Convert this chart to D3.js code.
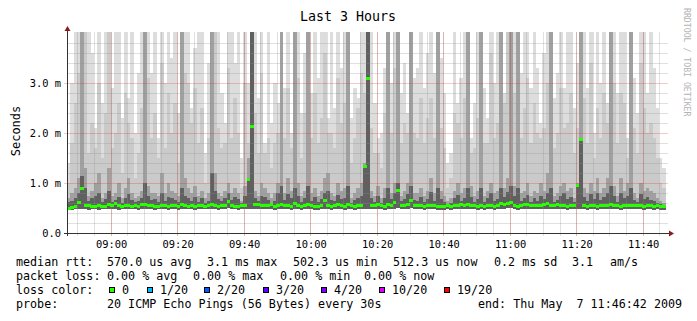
<!DOCTYPE html>
<html>
<head>
<meta charset="utf-8">
<script src="https://cdnjs.cloudflare.com/ajax/libs/d3/7.8.5/d3.min.js"></script>
<style>
  body { margin: 0; background: #fff; }
  svg text { font-family: "DejaVu Sans Mono", monospace; fill: #000; white-space: pre; }
</style>
</head>
<body>
<script>
// smokeping 3 hour view, one column per minute, values in ms
var startTime = new Date(2009, 4, 7, 8, 46, 42);
var endTime = new Date(2009, 4, 7, 11, 46, 42);

var minPing = [
  0.46,0.47,0.48,0.48,0.49,0.48,0.47,0.48,0.48,0.47,0.48,0.48,0.49,0.48,0.48,0.47,0.48,0.48,0.49,0.48,
  0.48,0.47,0.49,0.49,0.48,0.48,0.47,0.48,0.49,0.48,0.47,0.48,0.48,0.47,0.49,0.48,0.48,0.48,0.47,0.48,
  0.48,0.48,0.49,0.49,0.48,0.47,0.48,0.48,0.5,0.48,0.48,0.47,0.48,0.48,0.49,0.49,0.48,0.49,0.48,0.48,
  0.48,0.49,0.47,0.48,0.49,0.48,0.48,0.47,0.49,0.48,0.47,0.48,0.48,0.48,0.47,0.47,0.48,0.49,0.48,0.47,
  0.48,0.49,0.48,0.47,0.48,0.48,0.47,0.48,0.48,0.49,0.49,0.48,0.48,0.49,0.48,0.47,0.49,0.48,0.49,0.5,
  0.48,0.48,0.49,0.5,0.48,0.48,0.48,0.47,0.48,0.48,0.48,0.47,0.47,0.47,0.48,0.47,0.48,0.48,0.49,0.48,
  0.49,0.48,0.48,0.47,0.48,0.47,0.48,0.48,0.47,0.48,0.49,0.49,0.5,0.5,0.48,0.47,0.48,0.49,0.49,0.48,
  0.48,0.48,0.48,0.49,0.49,0.48,0.48,0.49,0.48,0.48,0.47,0.48,0.48,0.49,0.49,0.48,0.47,0.48,0.48,0.47,
  0.48,0.48,0.48,0.49,0.48,0.48,0.47,0.48,0.48,0.48,0.48,0.48,0.48,0.47,0.48,0.48,0.47,0.48,0.47,0.47
];

var medianRtt = [
  0.5,0.52,0.54,0.62,0.9,0.56,0.55,0.53,0.54,0.56,0.54,0.53,0.57,0.55,0.6,0.56,0.54,0.55,0.56,0.54,
  0.55,0.54,0.57,0.58,0.56,0.55,0.53,0.54,0.56,0.55,0.54,0.56,0.55,0.53,0.58,0.56,0.54,0.55,0.53,0.56,
  0.55,0.54,0.56,0.57,0.55,0.54,0.55,0.56,0.63,0.55,0.54,0.53,0.55,0.56,1.07,2.13,0.57,0.58,0.55,0.56,
  0.55,0.57,0.54,0.55,0.58,0.56,0.55,0.54,0.59,0.56,0.54,0.55,0.57,0.55,0.53,0.54,0.56,0.65,0.55,0.54,
  0.56,0.58,0.55,0.54,0.57,0.55,0.54,0.56,0.55,1.34,3.1,0.56,0.55,0.57,0.55,0.54,0.58,0.56,0.62,0.85,
  0.56,0.55,0.57,0.66,0.55,0.56,0.55,0.54,0.55,0.56,0.55,0.54,0.53,0.54,0.55,0.54,0.56,0.55,0.57,0.56,
  0.58,0.56,0.55,0.54,0.55,0.53,0.56,0.55,0.54,0.56,0.59,0.57,0.6,0.62,0.55,0.54,0.55,0.57,0.58,0.56,
  0.55,0.56,0.55,0.57,0.59,0.56,0.55,0.57,0.56,0.55,0.54,0.55,0.56,0.96,1.87,0.55,0.54,0.56,0.55,0.54,
  0.55,0.56,0.55,0.57,0.56,0.55,0.54,0.56,0.55,0.56,0.55,0.56,0.55,0.54,0.55,0.55,0.54,0.55,0.54,0.54
];

var ping12 = [
  0.62,0.65,0.7,0.8,1.15,0.9,0.65,0.7,0.75,0.8,0.62,0.68,0.85,0.63,0.66,0.72,0.6,0.7,0.78,0.66,
  0.62,0.64,0.7,1.0,0.74,0.66,0.68,0.63,0.8,0.64,0.72,0.7,0.66,0.62,0.9,0.75,0.7,0.65,0.72,0.63,
  0.7,0.6,0.64,1.2,0.85,0.68,0.64,0.7,0.8,0.66,0.72,0.68,0.6,0.74,1.1,4.1,0.7,0.64,0.75,0.72,
  0.66,0.6,0.65,0.8,0.95,0.66,0.78,0.7,0.9,0.74,0.62,0.7,0.95,0.65,0.72,0.63,0.68,0.8,0.85,0.66,
  0.64,0.76,0.68,0.7,0.95,0.6,0.66,0.7,0.74,1.35,4.1,0.7,0.62,0.74,0.6,0.7,0.9,0.68,0.8,1.0,
  0.64,0.68,0.78,0.95,0.66,0.65,0.72,0.63,0.68,0.82,0.64,0.9,0.68,0.62,0.58,0.6,0.7,0.76,0.64,0.7,
  0.9,0.72,0.62,0.68,0.9,0.63,0.7,0.8,0.64,0.68,0.9,0.72,0.82,0.95,0.74,0.9,0.65,0.7,0.76,0.63,
  0.7,0.65,0.75,0.68,0.8,0.9,0.62,0.66,0.74,0.8,0.68,0.72,0.62,0.96,1.9,0.72,0.65,0.78,0.68,0.8,
  0.66,0.72,0.8,0.95,0.74,0.63,0.8,0.7,0.75,0.9,0.66,0.62,0.78,0.68,0.72,0.67,0.64,0.6,0.58,0.57
];

var ping15 = [
  0.7,0.8,0.9,1.1,4.1,1.3,0.75,0.85,1.0,1.2,0.7,0.8,1.3,0.75,0.8,1.0,0.7,0.9,1.1,0.8,
  0.7,0.75,0.85,4.1,0.95,0.8,0.8,0.75,1.2,0.8,1.0,0.85,0.8,0.75,4.1,1.1,0.9,0.8,0.95,0.75,
  0.85,0.7,0.8,4.1,1.2,0.8,0.75,0.85,1.0,0.8,0.9,0.8,0.65,0.95,1.5,4.1,0.85,0.75,1.0,0.9,
  0.8,0.7,0.8,1.0,4.1,0.8,1.1,0.85,4.1,1.0,0.75,0.85,4.1,0.8,0.9,0.75,0.85,1.1,1.2,0.8,
  0.75,1.0,0.85,0.9,4.1,0.7,0.8,0.9,1.0,1.4,4.1,0.85,0.75,0.95,0.7,0.9,4.1,0.8,1.0,4.1,
  0.75,0.85,1.0,4.1,0.8,0.8,0.9,0.75,0.85,1.1,0.8,4.1,0.85,0.75,0.65,0.7,0.85,1.0,0.8,0.9,
  4.1,0.95,0.75,0.85,4.1,0.75,0.85,1.0,0.8,0.85,4.1,0.9,1.1,4.1,0.95,4.1,0.8,0.85,1.0,0.75,
  0.85,0.8,1.0,0.85,1.2,4.1,0.75,0.8,0.95,1.0,0.85,0.9,0.7,1.0,4.1,0.9,0.8,1.0,0.85,1.1,
  0.8,0.9,1.1,4.1,0.95,0.75,1.1,0.85,1.0,4.1,0.8,0.7,1.0,0.85,0.9,0.85,0.8,0.7,0.65,0.6
];

var ping18 = [
  1.0,1.8,2.6,3.2,4.1,4.1,1.6,2.2,1.7,3.0,1.5,2.4,4.1,1.7,2.0,2.6,1.2,2.8,2.2,1.9,
  1.1,1.6,2.5,4.1,3.1,1.9,2.4,1.5,3.4,1.7,2.8,2.0,2.6,1.4,4.1,3.2,3.0,2.2,2.9,1.8,
  2.5,1.0,1.9,4.1,4.1,2.1,1.7,1.8,3.3,1.9,2.7,2.0,0.9,3.0,1.8,4.1,2.4,1.6,3.2,1.6,
  1.9,1.3,1.8,2.0,4.1,1.9,2.9,1.7,4.1,3.1,1.5,2.4,4.1,1.9,2.8,1.8,2.3,3.6,2.0,2.0,
  1.7,3.1,2.2,2.6,4.1,1.4,1.9,2.5,3.2,2.8,4.1,2.1,1.6,1.6,1.3,2.4,4.1,2.0,3.3,4.1,
  1.8,2.2,2.0,4.1,2.0,1.9,2.7,1.8,2.3,2.7,1.9,4.1,2.1,1.7,0.9,1.1,2.4,2.2,1.9,2.7,
  4.1,1.6,1.7,2.3,4.1,1.8,1.8,3.6,1.9,2.2,4.1,2.6,4.1,4.1,2.8,4.1,1.9,2.5,3.1,1.8,
  2.6,2.0,1.9,2.1,3.0,4.1,1.7,2.0,2.9,2.1,2.2,2.8,1.6,2.1,4.1,2.7,1.8,3.4,1.5,2.5,
  1.9,2.8,2.2,4.1,3.0,1.8,2.8,2.6,1.5,4.1,2.1,1.6,3.4,2.5,2.0,2.2,1.9,1.5,1.0,0.9
];

var maxPing = [
  1.4,3.0,4.1,4.1,4.1,4.1,4.1,3.6,2.1,4.1,2.6,4.1,4.1,2.9,4.1,4.1,2.3,4.1,2.7,4.1,
  2.0,3.2,4.1,4.1,4.1,3.2,4.1,1.9,4.1,3.0,4.1,3.5,4.1,2.4,4.1,4.1,4.1,2.5,3.7,4.1,
  4.1,1.6,3.4,4.1,4.1,4.1,2.8,2.2,4.1,4.1,3.4,4.1,1.5,4.1,3.0,4.1,4.1,2.7,4.1,1.8,
  4.1,2.2,3.0,2.6,4.1,2.9,4.1,2.0,4.1,4.1,2.4,3.6,4.1,2.8,4.1,3.1,4.1,4.1,2.3,4.1,
  2.5,4.1,3.3,4.1,4.1,2.3,2.9,2.7,4.1,4.1,4.1,4.1,2.6,1.9,2.0,3.3,4.1,3.0,4.1,4.1,
  2.8,3.4,2.4,4.1,3.1,3.3,4.1,2.9,3.6,4.1,3.2,4.1,3.5,2.8,1.4,1.6,4.1,2.6,3.1,4.1,
  4.1,1.9,2.6,4.1,4.1,2.9,2.3,4.1,3.0,4.1,4.1,2.8,4.1,4.1,4.1,4.1,3.2,4.1,4.1,2.9,
  4.1,3.3,2.2,3.6,4.1,4.1,2.7,3.2,4.1,2.9,4.1,4.1,2.5,3.4,4.1,4.1,2.9,4.1,2.0,4.1,
  3.0,4.1,2.6,4.1,4.1,2.8,4.1,4.1,1.9,4.1,3.1,2.4,4.1,4.1,2.8,4.1,3.3,2.5,1.5,1.3
];

var xTickLabels = ["09:00", "09:20", "09:40", "10:00", "10:20", "10:40", "11:00", "11:20", "11:40"];
var yTickValues = [0, 1, 2, 3];
var yTickLabels = ["0.0", "1.0 m", "2.0 m", "3.0 m"];

var statLabels = ["median rtt:", "packet loss:", "loss color:", "probe:"];
var rttStats = ["570.0 us avg", "3.1 ms max", "502.3 us min", "512.3 us now", "0.2 ms sd", "3.1", "am/s"];
var lossStats = ["0.00 % avg", "0.00 % max", "0.00 % min", "0.00 % now"];
var lossLabels = ["0", "1/20", "2/20", "3/20", "4/20", "10/20", "19/20"];
var lossColors = ["#26ff00", "#00b8ff", "#0059ff", "#5e00ff", "#7e00ff", "#dd00ff", "#ff0000"];
var probeText = "20 ICMP Echo Pings (56 Bytes) every 30s";
var endText = "end: Thu May  7 11:46:42 2009";

// layout
var W = 697, H = 321;
var rttX = [107, 207, 293, 393, 494, 572, 610];
var lossX = [107, 193, 280, 364];
var boxX = [109, 147, 204, 263, 321, 379, 444];
var lineY = [266, 280, 294, 308];

var svg = d3.select("body")
  .append("svg")
    .attr("width", W)
    .attr("height", H);

svg.append("rect").attr("width", W).attr("height", H).attr("fill", "#fff");

var x = d3.scaleTime().domain([startTime, endTime]).range([67, 665.5]);
var y = d3.scaleLinear().domain([0, 4.02]).range([233, 32]);

var colTimes = minPing.map(function(d, i) { return d3.timeMinute.offset(startTime, i); });
function colX(i) { return x(colTimes[i]); }
function colW(i) { return x(d3.timeMinute.offset(colTimes[i], 1)) - x(colTimes[i]); }

svg.append("clipPath").attr("id", "plot")
  .append("rect").attr("x", 67).attr("y", 32).attr("width", 601).attr("height", 201);

// smoke, outer layer first
var layers = [
  { values: maxPing, color: "#dddddd" },
  { values: ping18, color: "#cacaca" },
  { values: ping15, color: "#a0a0a0" },
  { values: ping12, color: "#606060" }
];

var smoke = svg.append("g").attr("clip-path", "url(#plot)").attr("shape-rendering", "crispEdges");
layers.forEach(function(layer) {
  smoke.append("g").selectAll("rect")
      .data(layer.values)
      .enter()
    .append("rect")
      .attr("x", function(d, i) { return colX(i); })
      .attr("width", function(d, i) { return colW(i) + 0.3; })
      .attr("y", function(d) { return y(d); })
      .attr("height", function(d, i) { return y(minPing[i]) - y(d); })
      .attr("fill", layer.color);
});

// grid
var grid = svg.append("g").attr("shape-rendering", "crispEdges");
var minorY = d3.range(1, 21).map(function(d) { return d / 5; }).filter(function(d) { return d % 1 !== 0; });
grid.selectAll("line.hmin")
    .data(minorY)
    .enter()
  .append("line")
    .attr("x1", 67).attr("x2", 668)
    .attr("y1", function(d) { return Math.round(y(d)) + 0.5; })
    .attr("y2", function(d) { return Math.round(y(d)) + 0.5; })
    .attr("stroke", "#8f8f8f").attr("stroke-opacity", 0.28);

var minorX = d3.timeMinute.every(5).range(startTime, endTime);
grid.selectAll("line.vmin")
    .data(minorX)
    .enter()
  .append("line")
    .attr("x1", function(d) { return Math.floor(x(d)) + 0.5; })
    .attr("x2", function(d) { return Math.floor(x(d)) + 0.5; })
    .attr("y1", 32).attr("y2", 236)
    .attr("stroke", "#8f8f8f").attr("stroke-opacity", 0.28);

var parseHM = d3.timeParse("%Y-%m-%d %H:%M");
var majorX = xTickLabels.map(function(d) { return parseHM("2009-05-07 " + d); });
grid.selectAll("line.vmaj")
    .data(majorX)
    .enter()
  .append("line")
    .attr("x1", function(d) { return Math.floor(x(d)) + 0.5; })
    .attr("x2", function(d) { return Math.floor(x(d)) + 0.5; })
    .attr("y1", 32).attr("y2", 236)
    .attr("stroke", "#de3030").attr("stroke-opacity", 0.26);

grid.selectAll("line.hmaj")
    .data(yTickValues.filter(function(d) { return d > 0; }))
    .enter()
  .append("line")
    .attr("x1", 64).attr("x2", 668)
    .attr("y1", function(d) { return Math.round(y(d)) + 0.5; })
    .attr("y2", function(d) { return Math.round(y(d)) + 0.5; })
    .attr("stroke", "#de3030").attr("stroke-opacity", 0.26);

// median, drawn as short bars like smokeping does
svg.append("g").attr("shape-rendering", "crispEdges").selectAll("rect")
    .data(medianRtt)
    .enter()
  .append("rect")
    .attr("x", function(d, i) { return colX(i); })
    .attr("width", function(d, i) { return colW(i) + 0.3; })
    .attr("y", function(d) { return y(d) - 1.5; })
    .attr("height", 3)
    .attr("fill", lossColors[0]);

// axes
var axes = svg.append("g").attr("shape-rendering", "crispEdges");
axes.append("line").attr("x1", 64).attr("x2", 669).attr("y1", 233.5).attr("y2", 233.5).attr("stroke", "#333");
axes.append("line").attr("x1", 67.5).attr("x2", 67.5).attr("y1", 236).attr("y2", 31).attr("stroke", "#333");
svg.append("path").attr("d", "M669,230.5L674,233.5L669,236.5Z").attr("fill", "#8b1a1a");
svg.append("path").attr("d", "M64.5,31L67.5,26L70.5,31Z").attr("fill", "#8b1a1a");

var xAxis = d3.axisBottom(x)
  .tickValues(majorX)
  .tickSize(0)
  .tickPadding(0)
  .tickFormat(function(d, i) { return xTickLabels[i]; });
var gx = svg.append("g").attr("transform", "translate(0,240)").call(xAxis);
gx.select(".domain").remove();
gx.selectAll("text").attr("dy", "0.8em").attr("font-size", "10.4px").attr("font-family", "DejaVu Sans Mono").attr("fill", "#000");

var yAxis = d3.axisLeft(y)
  .tickValues(yTickValues)
  .tickSize(0)
  .tickPadding(0)
  .tickFormat(function(d, i) { return yTickLabels[i]; });
var gy = svg.append("g").attr("transform", "translate(61,0)").call(yAxis);
gy.select(".domain").remove();
gy.selectAll("text").attr("dy", "0.36em").attr("font-size", "10.4px").attr("font-family", "DejaVu Sans Mono").attr("fill", "#000");

// titles
svg.append("text").attr("x", 348).attr("y", 20.5).attr("text-anchor", "middle")
  .attr("font-size", "13.3px").text("Last 3 Hours");
svg.append("text").attr("transform", "translate(20,131) rotate(-90)").attr("text-anchor", "middle")
  .attr("font-size", "12px").text("Seconds");
svg.append("text").attr("transform", "translate(683.5,8) rotate(90)")
  .attr("font-size", "8.2px").style("fill", "#b4b4b4").text("RRDTOOL / TOBI OETIKER");

// legend
var legend = svg.append("g").attr("font-size", "11.7px");
statLabels.forEach(function(d, i) {
  legend.append("text").attr("x", 16).attr("y", lineY[i]).text(d);
});
rttStats.forEach(function(d, i) {
  legend.append("text").attr("x", rttX[i]).attr("y", lineY[0]).text(d);
});
lossStats.forEach(function(d, i) {
  legend.append("text").attr("x", lossX[i]).attr("y", lineY[1]).text(d);
});
lossLabels.forEach(function(d, i) {
  legend.append("rect")
    .attr("x", boxX[i] + 0.5).attr("y", lineY[2] - 6.5)
    .attr("width", 5).attr("height", 5)
    .attr("fill", lossColors[i]).attr("stroke", "#000").attr("stroke-width", 1)
    .attr("shape-rendering", "crispEdges");
  legend.append("text").attr("x", boxX[i] + 13).attr("y", lineY[2]).text(d);
});
legend.append("text").attr("x", 107).attr("y", lineY[3]).text(probeText);
legend.append("text").attr("x", 478).attr("y", lineY[3]).text(endText);
</script>
</body>
</html>
